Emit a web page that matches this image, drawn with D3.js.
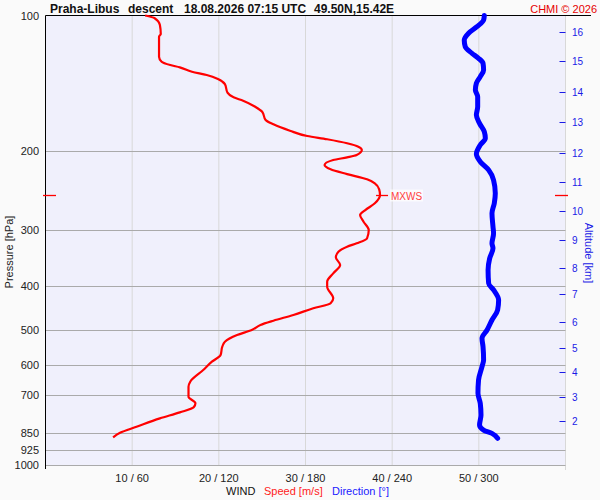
<!DOCTYPE html>
<html>
<head>
<meta charset="utf-8">
<script src="https://cdn.jsdelivr.net/npm/d3@7"></script>
<style>
  html, body { margin: 0; padding: 0; background: #fafafa; }
  svg { display: block; font-family: "Liberation Sans", Arial, sans-serif; }
</style>
</head>
<body>
<svg width="600" height="500"></svg>
<script>
'use strict'

// wind speed profile [hPa, m/s]
const speedPressure = [100, 101.4, 105, 109.9, 111.5, 123.5, 126.7, 128.9, 130.4, 133.4, 135.6, 138.4,
  142.1, 148.5, 152.1, 154.7, 159.6, 163.7, 170.8, 174.6, 180.4, 185.4, 188.5, 192.4, 195.8, 199.2,
  204.3, 206.8, 209.7, 215.1, 219.9, 225.3, 231.4, 236.2, 243.6, 250.8, 261.7, 270.9, 277.9, 287.6,
  300.1, 313.1, 321.2, 326.9, 335.4, 345.1, 359, 374.6, 391.1, 401.2, 425.7, 436.8, 448.1, 463.8,
  477.5, 488.1, 500.8, 513.8, 531.7, 545.5, 569.2, 589.1, 614.8, 652.7, 669.6, 704.9, 729.1, 744.2,
  763.6, 787.4, 822.1, 847.9, 868];
const speedValues = [11.5, 12.6, 13.2, 13.3, 13.1, 13.1, 13.4, 14.4, 15.5, 16.9, 18.6, 19.9,
  20.7, 21.0, 21.7, 22.8, 24.2, 25.0, 25.4, 26.3, 28.2, 30.2, 32.5, 34.8, 36.1, 36.5,
  35.9, 34.8, 33.2, 32.2, 32.9, 34.8, 37.1, 38.0, 38.5, 38.6, 38.0, 36.9, 36.3, 36.7,
  37.3, 37.1, 35.9, 34.8, 33.8, 33.5, 34.0, 33.2, 32.5, 32.5, 33.2, 32.9, 30.9, 28.6,
  26.3, 24.8, 23.8, 22.1, 20.7, 20.4, 20.2, 19.2, 18.2, 16.7, 16.5, 16.5, 17.3, 17.1,
  15.5, 13.2, 10.5, 8.6, 7.8];

// wind direction profile [hPa, deg]
const dirPressure = [100, 102.3, 105.9, 109.5, 113.4, 117.3, 121.4, 124.5, 127.7, 132.2, 136.8,
  141.5, 146.4, 151.6, 159.6, 166.5, 173.8, 181.4, 187.6, 194.1, 203.3, 211.5, 220.7, 232.3,
  248.7, 261.7, 275.4, 295.1, 305.2, 321.2, 329.6, 346.9, 368.4, 394.4, 407.9, 429.5, 452,
  475.8, 500.8, 522.5, 545.5, 584, 604.3, 647, 692.6, 729.1, 774.3, 814.7, 835.9, 850.5, 872.4];
const dirValues = [303.8, 303.3, 298.7, 292.9, 289.9, 290.6, 295.3, 299.8, 302.9, 303.3, 301.0,
  298.3, 297.6, 299.2, 299.2, 298.3, 300.5, 303.8, 304.5, 301.0, 298.3, 301.0, 306.8, 310.2,
  311.4, 310.7, 309.1, 309.8, 310.2, 309.1, 309.8, 307.5, 306.4, 306.8, 310.2, 313.7, 313.0,
  309.1, 305.7, 302.2, 302.9, 303.3, 302.2, 299.8, 299.4, 301.0, 301.5, 300.5, 303.3, 309.1, 313.0];

const pressureTicks = [100, 200, 300, 400, 500, 600, 700, 850, 925, 1000];
const speedTicks = [10, 20, 30, 40, 50];
const altitudeKm = [2, 3, 4, 5, 6, 7, 8, 9, 10, 11, 12, 13, 14, 15, 16];
const altitudePressure = [796.8, 704.5, 619.8, 548, 479.5, 416, 364.7, 316.5, 272.9, 235.1, 202.2,
  172.5, 147.9, 126.4, 108.7];

const LEFT = 45.5, RIGHT = 565.5, TOP = 15.5, BOTTOM = 465;

const svg = d3.select('svg');
const x = d3.scaleLinear().domain([0, 60]).range([LEFT, RIGHT]);
const xDir = d3.scaleLinear().domain([0, 360]).range([LEFT, RIGHT]);
const y = d3.scaleLog().domain([100, 1000]).range([TOP, BOTTOM]);

svg.append('rect')
  .attr('x', LEFT).attr('y', TOP)
  .attr('width', RIGHT - LEFT).attr('height', BOTTOM - TOP)
  .attr('fill', '#f0f0fc');

// vertical grid
svg.append('g').selectAll('line')
  .data(speedTicks.concat([60]))
  .join('line')
  .attr('x1', d => x(d)).attr('x2', d => x(d))
  .attr('y1', TOP).attr('y2', d => d === 60 ? 470 : BOTTOM)
  .attr('stroke', '#d8d8d8');

// horizontal grid
svg.append('g').selectAll('line')
  .data(pressureTicks.slice(1))
  .join('line')
  .attr('x1', LEFT).attr('x2', RIGHT)
  .attr('y1', d => Math.round(y(d)) + 0.5).attr('y2', d => Math.round(y(d)) + 0.5)
  .attr('stroke', '#aaaaaa');

// frame
svg.append('line').attr('x1', LEFT).attr('x2', 591).attr('y1', TOP).attr('y2', TOP).attr('stroke', '#000');
svg.append('line').attr('x1', LEFT).attr('x2', LEFT).attr('y1', TOP).attr('y2', 469).attr('stroke', '#000');

// pressure labels
svg.append('g').selectAll('text')
  .data(pressureTicks)
  .join('text')
  .attr('x', 39).attr('y', d => y(d) + 4)
  .attr('text-anchor', 'end')
  .attr('font-size', 11).attr('fill', '#222')
  .text(d => d);

svg.append('text')
  .attr('transform', 'translate(13,252) rotate(-90)')
  .attr('text-anchor', 'middle')
  .attr('font-size', 11).attr('fill', '#222')
  .text('Pressure [hPa]');

// altitude axis
const alt = svg.append('g');
alt.selectAll('line')
  .data(altitudeKm)
  .join('line')
  .attr('x1', 559.5).attr('x2', RIGHT)
  .attr('y1', (d, i) => Math.round(y(altitudePressure[i])) + 0.5)
  .attr('y2', (d, i) => Math.round(y(altitudePressure[i])) + 0.5)
  .attr('stroke', '#1a1ae6');
alt.selectAll('text')
  .data(altitudeKm)
  .join('text')
  .attr('x', 572).attr('y', (d, i) => y(altitudePressure[i]) + 4)
  .attr('font-size', 10).attr('fill', '#1a1ae6')
  .text(d => d);

svg.append('text')
  .attr('transform', 'translate(585,253) rotate(90)')
  .attr('text-anchor', 'middle')
  .attr('font-size', 11).attr('fill', '#1a1ae6')
  .text('Altitude [km]');

// bottom labels
svg.append('g').selectAll('text')
  .data(speedTicks)
  .join('text')
  .attr('x', d => x(d)).attr('y', 482)
  .attr('text-anchor', 'middle')
  .attr('font-size', 11).attr('fill', '#222')
  .text(d => d + ' / ' + d * 6);

svg.append('text').attr('x', 226).attr('y', 495).attr('font-size', 11).attr('fill', '#111').text('WIND');
svg.append('text').attr('x', 264).attr('y', 495).attr('font-size', 11).attr('fill', '#ff1a1a').text('Speed [m/s]');
svg.append('text').attr('x', 332).attr('y', 495).attr('font-size', 11).attr('fill', '#1a1aff').text('Direction [°]');

// title
const title = svg.append('g').attr('font-size', 12).attr('font-weight', 'bold').attr('fill', '#111');
title.append('text').attr('x', 50).attr('y', 13).text('Praha-Libus');
title.append('text').attr('x', 128).attr('y', 13).text('descent');
title.append('text').attr('x', 184).attr('y', 13).text('18.08.2026 07:15 UTC');
title.append('text').attr('x', 314).attr('y', 13).text('49.50N,15.42E');
svg.append('text').attr('x', 597).attr('y', 13).attr('text-anchor', 'end')
  .attr('font-size', 11).attr('fill', '#e60000').text('CHMI © 2026');

// direction
const dirLine = d3.line()
  .x(d => xDir(d[1]))
  .y(d => y(d[0]))
  .curve(d3.curveMonotoneY);
svg.append('path')
  .datum(d3.zip(dirPressure, dirValues))
  .attr('d', dirLine)
  .attr('fill', 'none').attr('stroke', '#0000ff')
  .attr('stroke-width', 5).attr('stroke-linecap', 'round').attr('stroke-linejoin', 'round');

// speed
const speedLine = d3.line()
  .x(d => x(d[1]))
  .y(d => y(d[0]))
  .curve(d3.curveMonotoneY);
svg.append('path')
  .datum(d3.zip(speedPressure, speedValues))
  .attr('d', speedLine)
  .attr('fill', 'none').attr('stroke', '#ff0000')
  .attr('stroke-width', 2.2).attr('stroke-linejoin', 'round');

// max wind marker
const mi = d3.maxIndex(speedValues);
const my = Math.round(y(speedPressure[mi])) + 0.5;
const mx = x(speedValues[mi]);
svg.append('line').attr('x1', mx - 4).attr('x2', mx + 8).attr('y1', my).attr('y2', my).attr('stroke', '#ff0000').attr('stroke-width', 1.3);
svg.append('line').attr('x1', 43).attr('x2', 56).attr('y1', my).attr('y2', my).attr('stroke', '#ff0000').attr('stroke-width', 1.3);
svg.append('line').attr('x1', 555).attr('x2', 568).attr('y1', my).attr('y2', my).attr('stroke', '#ff0000').attr('stroke-width', 1.3);
svg.append('rect').attr('x', mx + 10).attr('y', my - 6).attr('width', 33).attr('height', 12).attr('fill', '#ffffff').attr('opacity', 0.7);
svg.append('text').attr('x', mx + 11).attr('y', my + 4)
  .attr('font-size', 10).attr('fill', '#ff4040').text('MXWS');
</script>
</body>
</html>
